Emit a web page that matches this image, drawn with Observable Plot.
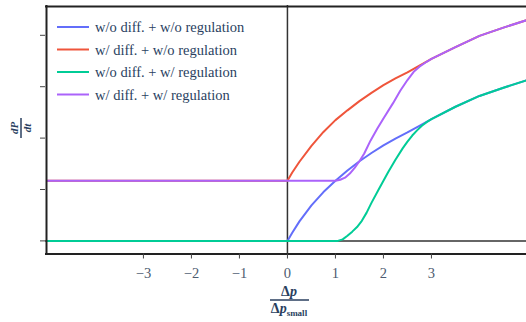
<!DOCTYPE html>
<html><head><meta charset="utf-8">
<script src="https://cdn.jsdelivr.net/npm/d3@7"></script>
<script src="https://cdn.jsdelivr.net/npm/@observablehq/plot@0.6"></script>
<style>
body{margin:0;background:#fff}
svg{display:block}
svg text, svg tspan{font-family:"Liberation Serif","Times New Roman","DejaVu Serif",serif !important;}
</style>
</head><body><div id="chart"></div>
<script>
const seriesNames = ["w/o diff. + w/o regulation", "w/ diff. + w/o regulation", "w/o diff. + w/ regulation", "w/ diff. + w/ regulation"];
const seriesColors = ["#636efa", "#ef553b", "#00cc96", "#ab63fa"];

const blueX = [-5, 0, 0.1, 0.25, 0.5, 0.75, 1.0, 1.25, 1.5, 1.75, 2.0, 2.25, 2.5, 2.75, 3.0, 3.5, 4.0, 4.5, 5.0];
const blueY = [0, 0, 0.16, 0.38, 0.69, 0.95, 1.17, 1.37, 1.55, 1.71, 1.86, 1.99, 2.11, 2.24, 2.37, 2.61, 2.82, 2.98, 3.13];

const redX = [-5, 0, 0.1, 0.25, 0.5, 0.75, 1.0, 1.25, 1.5, 1.75, 2.0, 2.25, 2.5, 2.75, 3.0, 3.5, 4.0, 4.5, 5.0];
const redY = [1.17, 1.17, 1.33, 1.54, 1.85, 2.12, 2.35, 2.54, 2.72, 2.88, 3.03, 3.16, 3.28, 3.41, 3.54, 3.77, 3.99, 4.15, 4.30];

const greenX = [-5, 1.05, 1.15, 1.25, 1.35, 1.45, 1.55, 1.65, 1.75, 1.9, 2.0, 2.1, 2.25, 2.4, 2.5, 2.6, 2.7, 2.8, 2.9, 3.0, 3.5, 4.0, 4.5, 5.0];
const greenY = [0, 0, 0.03, 0.1, 0.18, 0.27, 0.39, 0.55, 0.74, 1.0, 1.17, 1.34, 1.58, 1.8, 1.93, 2.05, 2.15, 2.24, 2.31, 2.37, 2.61, 2.82, 2.98, 3.13];

const purpleX = [-5, 1.0, 1.1, 1.2, 1.3, 1.4, 1.5, 1.6, 1.73, 1.87, 2.0, 2.2, 2.35, 2.5, 2.63, 2.75, 2.9, 3.0, 3.5, 4.0, 4.5, 5.0];
const purpleY = [1.17, 1.17, 1.19, 1.23, 1.31, 1.42, 1.55, 1.7, 1.95, 2.18, 2.38, 2.68, 2.92, 3.13, 3.29, 3.39, 3.485, 3.54, 3.77, 3.99, 4.15, 4.30];

const xTicks = [-3, -2, -1, 0, 1, 2, 3];
const yTicks = [0, 1, 2, 3, 4];
const xDomain = [-5.04, 4.98];
const yDomain = [-0.255, 4.58];

const seriesX = [blueX, redX, greenX, purpleX];
const seriesY = [blueY, redY, greenY, purpleY];
const rows = [];
seriesNames.forEach((s, i) => seriesX[i].forEach((x, j) => rows.push({x, y: seriesY[i][j], s})));

const W = 526, H = 322;
const chart = Plot.plot({
  width: W, height: H,
  marginLeft: 45, marginRight: 0, marginTop: 5, marginBottom: 68.5,
  style: "font-size:14.5px;color:#4d5b70;background:#fff;overflow:visible;",
  x: {domain: xDomain, label: null},
  y: {domain: yDomain, label: null},
  color: {domain: seriesNames, range: seriesColors},
  marks: [
    Plot.ruleY([0], {stroke: "#333", strokeWidth: 1.5}),
    Plot.ruleX([0], {stroke: "#333", strokeWidth: 1.5}),
    Plot.line(rows, {x: "x", y: "y", z: "s", stroke: "s", strokeWidth: 2}),
    Plot.ruleX([xDomain[0]], {stroke: "#222", strokeWidth: 2, dx: 1}),
    Plot.ruleY([yDomain[1]], {stroke: "#222", strokeWidth: 2, dy: 1}),
    Plot.ruleY([yDomain[0]], {stroke: "#222", strokeWidth: 2}),
    Plot.axisX(xTicks, {tickSize: 5, tickPadding: 9, stroke: "#444", label: null, fontSize: 14.5}),
    Plot.axisY(yTicks, {tickSize: 5, tickFormat: () => "", stroke: "#444", label: null})
  ]
});
document.getElementById("chart").appendChild(chart);

const svg = d3.select(chart);
const ink = "#2a3f5f";
// legend
const leg = svg.append("g").attr("font-size", 14.5).attr("text-anchor", "start");
seriesNames.forEach((s, i) => {
  const cy = 27 + i * 22.5;
  leg.append("line").attr("x1", 57).attr("x2", 89).attr("y1", cy).attr("y2", cy)
    .attr("stroke", seriesColors[i]).attr("stroke-width", 2);
  leg.append("text").attr("x", 95).attr("y", cy).attr("dy", "0.35em").attr("fill", ink).text(s);
});
// x title
const xt = svg.append("g").attr("font-weight", "bold").attr("fill", ink);
const num = xt.append("text").attr("x", 289).attr("y", 296).attr("text-anchor", "middle").attr("font-size", 14);
num.append("tspan").text("Δ");
num.append("tspan").attr("font-style", "italic").text("p");
xt.append("line").attr("x1", 270).attr("x2", 309).attr("y1", 300).attr("y2", 300).attr("stroke", ink).attr("stroke-width", 1.5);
const den = xt.append("text").attr("x", 289).attr("y", 313).attr("text-anchor", "middle").attr("font-size", 14);
den.append("tspan").text("Δ");
den.append("tspan").attr("font-style", "italic").text("p");
den.append("tspan").attr("font-size", 9).attr("dy", 3).text("small");
// y title
const yt = svg.append("g").attr("transform", "translate(21,128) rotate(-90)")
  .attr("font-weight", "bold").attr("fill", ink).attr("font-size", 11);
yt.append("text").attr("x", 0).attr("y", -3).attr("text-anchor", "middle").attr("font-style", "italic").text("dP");
yt.append("line").attr("x1", -10).attr("x2", 10).attr("y1", 0).attr("y2", 0).attr("stroke", ink).attr("stroke-width", 1.5);
yt.append("text").attr("x", 0).attr("y", 10).attr("text-anchor", "middle").attr("font-style", "italic").text("dt");
</script></body></html>
